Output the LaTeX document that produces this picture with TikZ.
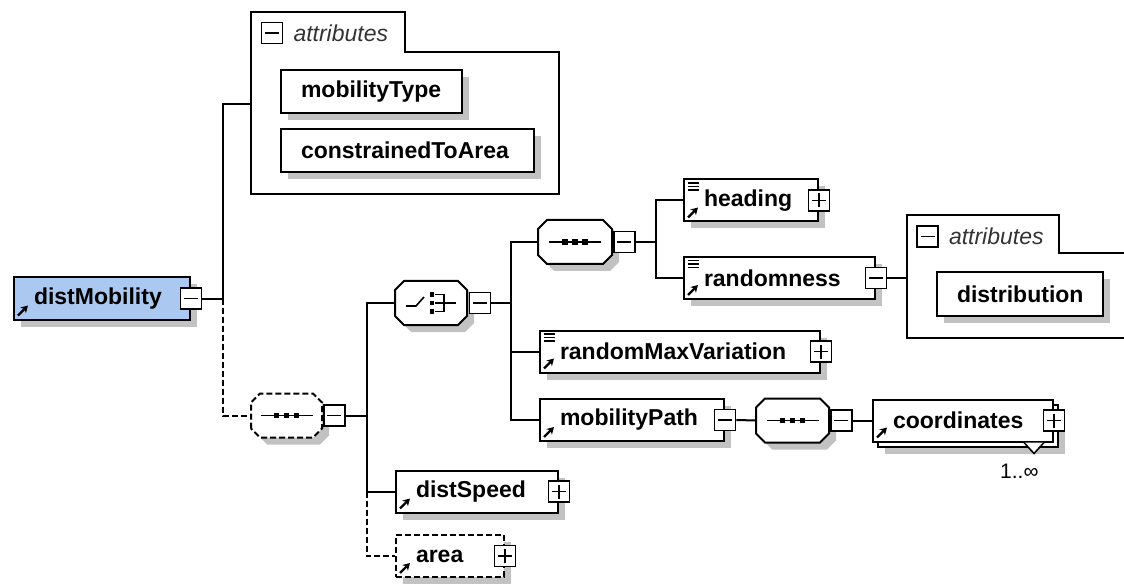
\documentclass[tikz,border=0pt]{standalone}
\usepackage{fontspec}
\setmainfont{Liberation Sans}
\usepackage{xcolor}
\usepackage{tikz}
\usetikzlibrary{positioning,arrows.meta,shadows}

\definecolor{rootblue}{RGB}{170,200,240}
\newcommand\boxfont{\fontsize{23}{27}\selectfont\bfseries}
\newcommand\tabfont{\fontsize{23}{27}\selectfont\itshape}
\newcommand\multfont{\fontsize{21}{25}\selectfont}
\newcommand\refarrow{\draw[solid, line width=2.4pt, -{Stealth[length=7pt, width=8pt]}] ([shift={(4pt,4pt)}]path picture bounding box.south west) -- ++(10pt,10pt);}
\newcommand\typelines{\foreach \dy in {3.5,7,10.5}{\draw[solid, line width=1.2pt] ([shift={(4pt,-\dy pt)}]path picture bounding box.north west) -- ++(11pt,0pt);}}
\newcommand\minusbar{\draw[solid, line width=1.5pt] ([xshift=-7pt]path picture bounding box.center) -- ([xshift=7pt]path picture bounding box.center);}
\newcommand\plusbar{\draw[solid, line width=1.5pt] ([yshift=-7pt]path picture bounding box.center) -- ([yshift=7pt]path picture bounding box.center);}
\newcommand\seqsym{%
  \draw[solid, line width=1.6pt] ([xshift=-26pt]path picture bounding box.center) -- ([xshift=26pt]path picture bounding box.center);
  \foreach \dx in {-10,0,10}{\fill[black] ([xshift=\dx pt]path picture bounding box.center) ++(-2.8pt,-2.8pt) rectangle ++(5.6pt,5.6pt);}}
\newcommand\choicesym{%
  \begin{scope}[shift={(path picture bounding box.center)}, x=1pt, y=1pt]
    \draw[solid, line width=1.6pt] (-25,-3) -- (-15,-3) -- (-7,6);
    \foreach \dy in {-8.5,0,8.5}{\fill[black] (-1.5,\dy-2.3) rectangle ++(4.6,4.6);}
    \draw[solid, line width=1.6pt] (4,8.5) -- (13,8.5) -- (13,-8.5) -- (4,-8.5) (4,0) -- (25,0);
  \end{scope}}

% octagon outline for the compositor boxes
\makeatletter
\newdimen\octcut \octcut=9pt
\newdimen\octxa \newdimen\octya \newdimen\octxb \newdimen\octyb
\pgfdeclareshape{octbox}{%
  \inheritsavedanchors[from=rectangle]%
  \inheritanchorborder[from=rectangle]%
  \inheritanchor[from=rectangle]{center}%
  \inheritanchor[from=rectangle]{north}%
  \inheritanchor[from=rectangle]{south}%
  \inheritanchor[from=rectangle]{east}%
  \inheritanchor[from=rectangle]{west}%
  \backgroundpath{%
    \southwest \octxa=\pgf@x \octya=\pgf@y
    \northeast \octxb=\pgf@x \octyb=\pgf@y
    \pgfpathmoveto{\pgfqpoint{\octxa}{\dimexpr\octya+\octcut\relax}}%
    \pgfpathlineto{\pgfqpoint{\octxa}{\dimexpr\octyb-\octcut\relax}}%
    \pgfpathlineto{\pgfqpoint{\dimexpr\octxa+\octcut\relax}{\octyb}}%
    \pgfpathlineto{\pgfqpoint{\dimexpr\octxb-\octcut\relax}{\octyb}}%
    \pgfpathlineto{\pgfqpoint{\octxb}{\dimexpr\octyb-\octcut\relax}}%
    \pgfpathlineto{\pgfqpoint{\octxb}{\dimexpr\octya+\octcut\relax}}%
    \pgfpathlineto{\pgfqpoint{\dimexpr\octxb-\octcut\relax}{\octya}}%
    \pgfpathlineto{\pgfqpoint{\dimexpr\octxa+\octcut\relax}{\octya}}%
    \pgfpathclose
  }%
}
\makeatother

\begin{document}
\begin{tikzpicture}[x=1pt, y=-1pt,
  box/.style={draw, line width=2pt, fill=white, anchor=west, minimum height=42pt, inner sep=0pt, text width=#1, align=left, font=\boxfont, execute at begin node={\hspace*{20pt}}},
  shd/.style={drop shadow={shadow xshift=7pt, shadow yshift=-7pt, opacity=1, fill=black!24}},
  elem/.style={box=#1, shd, path picture={\refarrow}},
  elemtype/.style={box=#1, shd, path picture={\refarrow\typelines}},
  elemmulti/.style={box=#1, drop shadow={shadow xshift=12pt, shadow yshift=-12pt, opacity=1, fill=black!24}, copy shadow={shadow xshift=5pt, shadow yshift=-5pt, draw, fill=white, line width=2pt}, path picture={\refarrow}},
  attr/.style={box=#1, shd, minimum height=43pt},
  oct/.style={octbox, draw, fill=white, line width=2pt, minimum width=71pt, minimum height=42pt, inner sep=0pt, anchor=west, shd},
  seqoct/.style={oct, path picture={\seqsym}},
  choiceoct/.style={oct, path picture={\choicesym}},
  toggle/.style={draw, fill=white, line width=1.6pt, minimum width=21pt, minimum height=21pt, inner sep=0pt},
  minusbox/.style={toggle, path picture={\minusbar}},
  plusbox/.style={toggle, path picture={\minusbar\plusbar}},
  grp/.style={line width=2pt},
  conn/.style={line width=2pt},
  opt/.style={dash pattern=on 6pt off 3pt},
  tablabel/.style={font=\tabfont, text=black!80, inner sep=0pt},
  mult/.style={font=\multfont, inner sep=0pt}]
\useasboundingbox (0,0) rectangle (1124,585);

\draw[grp] (251,194) -- (251,12) -- (405,12) -- (405,52) -- (559,52) -- (559,194) -- cycle;
\draw[grp] (1124,253) -- (1059,253) -- (1059,215) -- (907,215) -- (907,338) -- (1124,338);
\coordinate (attrAin) at (251,104);
\coordinate (attrBin) at (907,278);
\node[minusbox] (attrAT) at (272,33) {};
\node[tablabel, right=10pt of attrAT] (attrAlabel) {attributes};
\node[minusbox] (attrBT) at (927.5,236.5) {};
\node[tablabel, right=10pt of attrBT] (attrBlabel) {attributes};

\node[elem=176pt, fill=rootblue] (distMobility) at (13,298.5) {distMobility};
\node[attr=181pt] (mobilityType) at (280,91.5) {mobilityType};
\node[attr=253pt] (constrainedToArea) at (280,150.5) {constrainedToArea};
\node[seqoct, opt, minimum width=69pt] (seqA) at (251,415.5) {};
\node[choiceoct, minimum width=70pt] (choice) at (395,303) {};
\node[seqoct, minimum width=72pt] (seqB) at (538,242) {};
\node[elemtype=134pt] (heading) at (683,200.5) {heading};
\node[elemtype=191pt] (randomness) at (683,278) {randomness};
\node[attr=166pt] (distribution) at (936,294) {distribution};
\node[elemtype=280pt] (randomMaxVariation) at (539,351.5) {randomMaxVariation};
\node[elem=184pt] (mobilityPath) at (539,420) {mobilityPath};
\node[seqoct] (seqC) at (756,420.5) {};
\node[elemmulti=180pt] (coordinates) at (872,420.5) {coordinates};
\node[elem=162pt] (distSpeed) at (395,491.5) {distSpeed};
\node[elem=108pt, opt] (area) at (395,556) {area};

\draw[line width=1.5pt, fill=white] ([xshift=-30pt]coordinates.south east) -- ++(10,11) -- ++(10,-11);
\node[mult, anchor=base west] (coordinatesMult) at (1000,478) {1..∞};

\node[minusbox] (distMobilityT) at (distMobility.east) {};
\node[plusbox] (headingT) at (heading.east) {};
\node[minusbox] (randomnessT) at (randomness.east) {};
\node[plusbox] (randomMaxVariationT) at (randomMaxVariation.east) {};
\node[minusbox] (mobilityPathT) at (mobilityPath.east) {};
\node[plusbox] (coordinatesT) at (coordinates.east) {};
\node[plusbox] (distSpeedT) at (distSpeed.east) {};
\node[plusbox] (areaT) at (area.east) {};
\node[minusbox, right=1pt of seqA] (seqAT) {};
\node[minusbox, right=1.5pt of choice] (choiceT) {};
\node[minusbox, right=1pt of seqB] (seqBT) {};
\node[minusbox, right=1pt of seqC] (seqCT) {};

\coordinate (dmBus) at ([xshift=21pt]distMobilityT.east);
\coordinate (seqABus) at ([xshift=21pt]seqAT.east);
\coordinate (choiceBus) at ([xshift=20pt]choiceT.east);
\coordinate (seqBBus) at ([xshift=20pt]seqBT.east);
\draw[conn] (distMobilityT.east) -- (dmBus) |- (attrAin);
\draw[conn, opt] (dmBus) |- (seqA.west);
\draw[conn] (seqAT.east) -- (seqABus);
\foreach \c in {choice, distSpeed} { \draw[conn] (seqABus) |- (\c.west); }
\draw[conn, opt] (seqABus |- distSpeed.west) |- (area.west);
\draw[conn] (choiceT.east) -- (choiceBus);
\foreach \c in {seqB, randomMaxVariation, mobilityPath} { \draw[conn] (choiceBus) |- (\c.west); }
\draw[conn] (seqBT.east) -- (seqBBus);
\foreach \c in {heading, randomness} { \draw[conn] (seqBBus) |- (\c.west); }
\draw[conn] (randomnessT.east) -- (attrBin);
\draw[conn] (mobilityPathT.east) -- (seqC.west);
\draw[conn] (seqCT.east) -- (coordinates.west);
\end{tikzpicture}
\end{document}
